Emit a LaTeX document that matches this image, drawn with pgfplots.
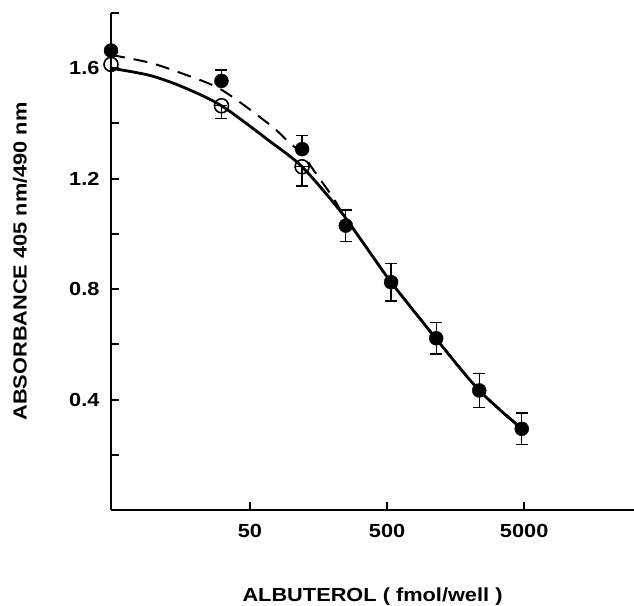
\documentclass[border=0pt]{standalone}
\usepackage{fontspec}
\setmainfont{Liberation Sans}[FakeStretch=1.15]
\usepackage{pgfplots}
\pgfplotsset{compat=1.18}

\begin{document}
\begin{tikzpicture}
\begin{axis}[
  name=ax,
  scale only axis,
  width=523bp,
  height=497bp,
  clip=false,
  xmode=log,
  xmin=4.85, xmax=31600,
  ymin=0, ymax=1.8,
  axis x line*=bottom,
  axis y line*=left,
  axis line style={-, line width=2.6bp},
  tick align=inside,
  major tick length=8bp,
  minor tick length=8bp,
  tick style={line width=2bp, black},
  xtick={50,500,5000},
  xticklabels={50,500,5000},
  xminorticks=false,
  ytick={0.4,0.8,1.2,1.6},
  minor ytick={0.2,0.6,1.0,1.4,1.8},
  yticklabel style={/pgf/number format/fixed, /pgf/number format/precision=1, xshift=-8bp},
  xticklabel style={anchor=base, yshift=-27bp},
  /pgf/number format/assume math mode=true,
  tick label style={font=\fontsize{19}{21}\selectfont\bfseries},
  label style={font=\fontsize{19}{21}\selectfont\bfseries},
  xlabel={ALBUTEROL ( fmol/well )},
  ylabel={ABSORBANCE 405 nm/490 nm},
  xlabel style={at={(axis description cs:0.5,0)}, anchor=base, yshift=-91bp},
  ylabel style={at={(axis description cs:0,0.5)}, anchor=center, yshift=91bp},
]
% fitted curve, open circles (solid)
\addplot[black, line width=2.8bp, smooth] coordinates {
  (4.85,1.600) (9.3,1.574) (16.2,1.532) (31,1.464) (70,1.335)
  (120,1.243) (227,1.084) (345,0.958) (535,0.825) (1140,0.620)
  (2350,0.433) (4800,0.294)
};
% fitted curve, filled circles (dashed)
\addplot[black, line width=2bp, dash pattern=on 14bp off 9bp, smooth] coordinates {
  (4.85,1.648) (9.3,1.620) (16.2,1.580) (31,1.522) (70,1.395)
  (98,1.328) (120,1.292) (144,1.234) (202,1.131) (247,1.059)
  (345,0.960) (535,0.827) (1140,0.622) (2350,0.435) (4800,0.296)
};
% filled circles
\addplot[black, only marks, mark=*, mark size=7bp,
  error bars/.cd, y dir=both, y explicit,
  error bar style={line width=1.3bp},
  error mark options={rotate=90, mark size=6bp, line width=1.3bp}]
  coordinates {
  (4.85,1.664)
  (31,1.554) += (0,0.040) -= (0,0)
  (120,1.307) += (0,0.050) -= (0,0)
  (250,1.030) +- (0,0.057)
  (535,0.825) +- (0,0.068)
  (1140,0.622) +- (0,0.057)
  (2350,0.433) +- (0,0.062)
  (4800,0.294) +- (0,0.057)
};
% open circles
\addplot[black, only marks, mark=o, mark size=7bp,
  mark options={fill=white, line width=1.6bp},
  error bars/.cd, y dir=both, y explicit,
  error bar style={line width=1.3bp},
  error mark options={rotate=90, mark size=6bp, line width=1.3bp}]
  coordinates {
  (4.85,1.614)
  (31,1.464) += (0,0) -= (0,0.046)
  (120,1.243) += (0,0) -= (0,0.070)
};
\end{axis}
\pgfresetboundingbox
\path (-111bp,-96bp) rectangle (523bp,510bp);
\end{tikzpicture}
\end{document}
